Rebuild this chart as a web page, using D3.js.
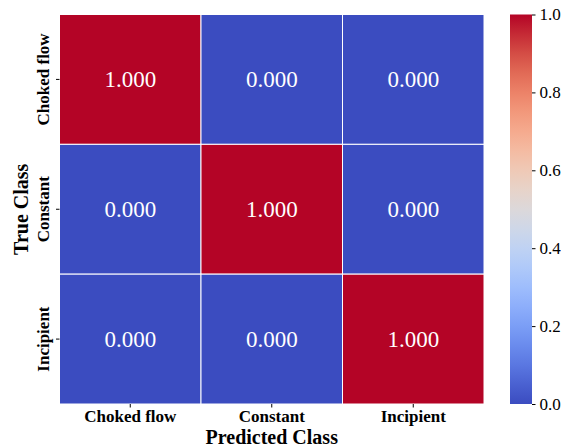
<!DOCTYPE html>
<html>
<head>
<meta charset="utf-8">
<script src="https://cdn.jsdelivr.net/npm/d3@7"></script>
<style>
  body { margin: 0; background: #fff; }
  text { font-family: "Liberation Serif", "Times New Roman", serif; }
</style>
</head>
<body>
<svg id="chart" width="561" height="447"></svg>
<script>
// confusion matrix data
const trueClasses = ["Choked flow", "Constant", "Incipient"];
const predClasses = ["Choked flow", "Constant", "Incipient"];
const matrix = [
  [1.0, 0.0, 0.0],
  [0.0, 1.0, 0.0],
  [0.0, 0.0, 1.0]
];
const colorbarTicks = [0.0, 0.2, 0.4, 0.6, 0.8, 1.0];

// approximate matplotlib "coolwarm"
const coolwarmStops = ["#3b4cc0", "#5977e3", "#7b9ff9", "#9ebeff", "#c0d4f5",
  "#dddcdc", "#f2cbb7", "#f7ac8e", "#ee8468", "#d65244", "#b40426"];
const coolwarm = d3.interpolateRgbBasis(coolwarmStops);
const color = d3.scaleSequential(coolwarm).domain([0, 1]);

const svg = d3.select("#chart");
const margin = { left: 59.5, top: 14.5, right: 484, bottom: 404 };

const x = d3.scaleBand().domain(predClasses).range([margin.left, margin.right]);
const y = d3.scaleBand().domain(trueClasses).range([margin.top, margin.bottom]);

// cells
const cells = [];
matrix.forEach((row, i) => row.forEach((v, j) => cells.push({ t: trueClasses[i], p: predClasses[j], v })));

svg.append("g").selectAll("rect")
  .data(cells)
  .join("rect")
  .attr("x", d => x(d.p))
  .attr("y", d => y(d.t))
  .attr("width", x.bandwidth())
  .attr("height", y.bandwidth())
  .attr("fill", d => color(d.v))
  .attr("stroke", "#fff")
  .attr("stroke-width", 1);

svg.append("g").selectAll("text")
  .data(cells)
  .join("text")
  .attr("x", d => x(d.p) + x.bandwidth() / 2)
  .attr("y", d => y(d.t) + y.bandwidth() / 2)
  .attr("text-anchor", "middle")
  .attr("dominant-baseline", "central")
  .attr("fill", "#fff")
  .style("font-size", "23px")
  .text(d => d.v.toFixed(3));

// axes
const xAxis = svg.append("g")
  .attr("transform", `translate(0,${margin.bottom})`)
  .call(d3.axisBottom(x).tickSize(3.5).tickPadding(3));
const yAxis = svg.append("g")
  .attr("transform", `translate(${margin.left},0)`)
  .call(d3.axisLeft(y).tickSize(3.5).tickPadding(4));
[xAxis, yAxis].forEach(a => {
  a.select(".domain").remove();
  a.selectAll("text").style("font-size", "17px").style("font-weight", "bold")
    .style("font-family", "Liberation Serif, serif").attr("fill", "#000");
});
xAxis.selectAll("text").attr("dy", "0.66em");
yAxis.selectAll("text")
  .attr("transform", "rotate(-90)")
  .attr("text-anchor", "middle")
  .attr("x", 0)
  .attr("y", -11)
  .attr("dy", 0);

// axis titles
svg.append("text")
  .attr("x", (margin.left + margin.right) / 2)
  .attr("y", 443.5)
  .attr("text-anchor", "middle")
  .style("font-size", "20px")
  .style("font-weight", "bold")
  .text("Predicted Class");

svg.append("text")
  .attr("transform", `translate(28,${(margin.top + margin.bottom) / 2}) rotate(-90)`)
  .attr("text-anchor", "middle")
  .style("font-size", "20px")
  .style("font-weight", "bold")
  .text("True Class");

// colorbar
const cb = { x: 510, w: 22 };
const cbScale = d3.scaleLinear().domain([0, 1]).range([margin.bottom, margin.top]);
const grad = svg.append("defs").append("linearGradient")
  .attr("id", "cbgrad").attr("x1", 0).attr("y1", 1).attr("x2", 0).attr("y2", 0);
grad.selectAll("stop")
  .data(d3.range(0, 1.0001, 0.05))
  .join("stop")
  .attr("offset", d => d)
  .attr("stop-color", d => color(d));

svg.append("rect")
  .attr("x", cb.x)
  .attr("y", margin.top)
  .attr("width", cb.w)
  .attr("height", margin.bottom - margin.top)
  .attr("fill", "url(#cbgrad)");

const cbAxis = svg.append("g")
  .attr("transform", `translate(${cb.x + cb.w},0)`)
  .call(d3.axisRight(cbScale).tickValues(colorbarTicks).tickFormat(d3.format(".1f")).tickSize(3.5).tickPadding(4));
cbAxis.select(".domain").remove();
cbAxis.selectAll("text").style("font-size", "17px")
  .style("font-family", "Liberation Serif, serif").attr("fill", "#000");
</script>
</body>
</html>
